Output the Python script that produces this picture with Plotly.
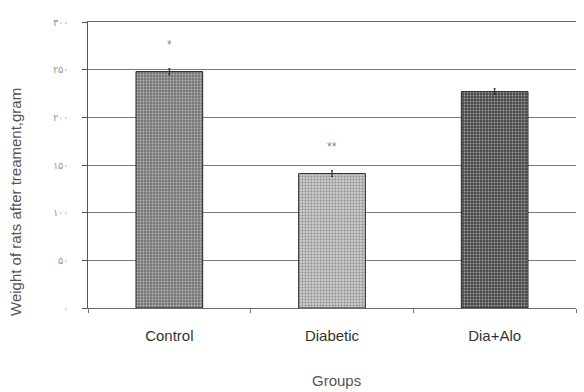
import plotly.graph_objects as go

# Body weight of rats after treatment, per group
groups = ["Control", "Diabetic", "Dia+Alo"]
weights = [248, 141, 227]
weight_err = [3, 3, 3]
significance = ["*", "**", ""]

y_ticks = [0, 50, 100, 150, 200, 250, 300]
y_tick_text = ["۰", "۵۰", "۱۰۰", "۱۵۰", "۲۰۰", "۲۵۰", "۳۰۰"]
y_max = 300

bar_bg = ["#767676", "#cacaca", "#484848"]
bar_fg = ["#5a5a5a", "#a0a0a0", "#2e2e2e"]

fig = go.Figure()
fig.add_trace(go.Bar(
    x=groups,
    y=weights,
    width=0.41,
    marker=dict(
        color=bar_bg,
        line=dict(color="#2a2a2a", width=1),
        pattern=dict(shape=".", fgcolor=bar_fg, bgcolor=bar_bg, size=3, solidity=0.3),
    ),
    error_y=dict(type="data", array=weight_err, color="#222222", thickness=1, width=1),
    showlegend=False,
))

for g, w, e, s in zip(groups, weights, weight_err, significance):
    if s:
        fig.add_annotation(x=g, y=w + e + 25, text=s, showarrow=False,
                           font=dict(size=12, color="#888888", family="Arial"))

# axis titles placed as paper-referenced annotations
fig.add_annotation(xref="paper", yref="paper", x=-0.15, y=0.37, textangle=-90,
                   text="Weight of rats after treament,gram", showarrow=False,
                   xanchor="center", yanchor="middle",
                   font=dict(size=15, color="#555555"))
fig.add_annotation(xref="paper", yref="paper", x=0.51, y=-0.255,
                   text="Groups", showarrow=False,
                   xanchor="center", yanchor="middle",
                   font=dict(size=15, color="#555555"))

fig.update_layout(
    width=584, height=392,
    margin=dict(l=88, r=8, t=22, b=84),
    paper_bgcolor="white", plot_bgcolor="white",
    font=dict(family="Arial, Liberation Sans", color="#444444"),
    bargap=0.59,
)
fig.update_yaxes(
    range=[0, y_max], tickvals=y_ticks, ticktext=y_tick_text,
    showgrid=True, gridcolor="#7a7a7a", gridwidth=1,
    showline=True, linecolor="#555555", linewidth=1,
    ticks="outside", ticklen=5, tickcolor="#555555",
    ticklabelstandoff=12,
    tickfont=dict(size=10, color="#999999"),
    zeroline=False,
)
# the mirrored x-axis line forms the top rule at the axis maximum
fig.update_xaxes(
    showline=True, linecolor="#6a6a6a", linewidth=1, mirror=True,
    ticks="outside", tickson="boundaries", ticklen=4, tickcolor="#777777",
    ticklabelstandoff=14,
    tickfont=dict(size=15, color="#333333"),
)

fig.write_html("out.html")
